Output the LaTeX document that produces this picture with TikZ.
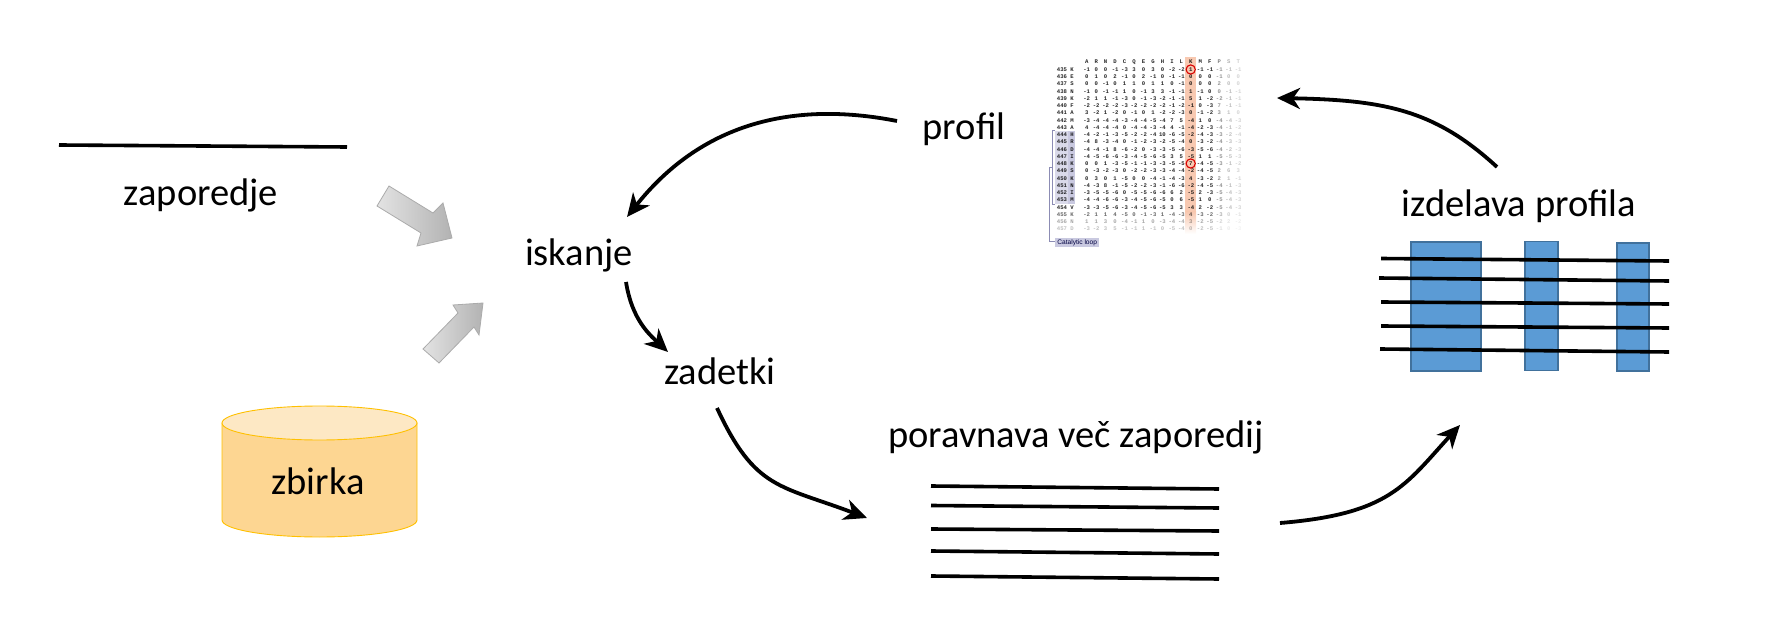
\documentclass[tikz,border=0pt]{standalone}
\usepackage{fontspec}
\setmainfont{Carlito}
\newfontfamily\tblfont{Liberation Mono}[BoldFont=Liberation Mono Bold]
\newfontfamily\capfont{Liberation Sans}
\usetikzlibrary{arrows.meta}
\definecolor{bluefill}{HTML}{5B9BD5}
\definecolor{blueedge}{HTML}{41719C}
\definecolor{cylbody}{HTML}{FDD692}
\definecolor{cyltop}{HTML}{FDE8C4}
\definecolor{cyledge}{HTML}{FFC000}
\definecolor{hilite}{HTML}{F8C9B1}
\definecolor{purpA}{HTML}{DADAEA}
\definecolor{purpB}{HTML}{C9C9E0}
\definecolor{purpL}{HTML}{8C8CB4}
\tikzset{
  lbl/.style={font=\fontsize{38.5}{41}\selectfont, text=black, inner sep=0pt},
  seqline/.style={line width=3.6pt, black},
  flow/.style={line width=3.8pt, black, -{Stealth[length=23pt,width=21pt,inset=7pt]}},
  bar/.style={draw=blueedge, line width=1.8pt, fill=bluefill},
  bigarrow/.style={draw=black!33, line width=0.8pt, left color=black!11, right color=black!30},
  cell/.style={font=\tblfont\bfseries\fontsize{5.6}{6}\selectfont, inner sep=0pt, anchor=base},
}
\begin{document}
\begin{tikzpicture}[x=1pt,y=-1pt]
\useasboundingbox (0,0) rectangle (1778,620);

% --- labels
\node[lbl] (zap) at (201,195) {zaporedje};
\node[lbl] (isk) at (579,255) {iskanje};
\node[lbl] (zad) at (720,371) {zadetki};
\node[lbl] (prf) at (964,129) {profil};
\node[lbl] (por) at (1076,437) {poravnava več zaporedij};
\node[lbl] (izd) at (1519,206) {izdelava profila};

% --- single sequence
\coordinate (s1) at (59,145); \coordinate (s2) at (347,147);
\draw[seqline] (s1) -- (s2);

% --- cylinder
\path[draw=cyledge, line width=0.9pt, fill=cylbody]
  (222,423) -- (222,520) arc[start angle=180,end angle=0,x radius=97.5,y radius=17] -- (417,423) -- cycle;
\path[draw=cyledge, line width=0.9pt, fill=cyltop]
  (319.5,423) ellipse[x radius=97.5,y radius=17];
\node[lbl] (zb) at (318,481) {zbirka};

% --- grey block arrows
\path[bigarrow] (389,186) -- (433,213) -- (443,203) -- (452,238) -- (417,246) -- (421,233) -- (377,206) -- cycle;
\path[bigarrow] (423,349) -- (458,313) -- (453,305) -- (483,303) -- (479,335) -- (474,327) -- (439,363) -- cycle;

% --- alignment lines
\foreach \n/\a/\b in {1/486/489,2/505.5/508,3/529/531,4/551/554,5/576/579}{
  \coordinate (al\n) at (931,\a); \coordinate (ar\n) at (1219,\b);
  \draw[seqline] (al\n) -- (ar\n);
}

% --- profile bars
\node[bar, minimum width=70pt, minimum height=129pt, inner sep=0pt] (b1) at (1446,306.5) {};
\node[bar, minimum width=33pt, minimum height=129pt, inner sep=0pt] (b2) at (1541.5,306) {};
\node[bar, minimum width=32pt, minimum height=128pt, inner sep=0pt] (b3) at (1633,307) {};
\foreach \n/\xa/\a/\b in {1/1381/258.5/261,2/1379/278/281,3/1381/302/304,4/1381/326/328,5/1380/349/352}{
  \coordinate (pl\n) at (\xa,\a); \coordinate (pr\n) at (1669,\b);
  \draw[seqline] (pl\n) -- (pr\n);
}

% --- profile table
\fill[hilite] (1185,57) rectangle (1196,212);
\shade[top color=hilite, bottom color=white] (1185,212) rectangle (1196,234);
\fill[purpA] (1055,131) rectangle (1068,204);
\fill[purpB] (1068,131) rectangle (1075,204);
\draw[purpL, line width=0.8pt] (1055,130) -- (1052.5,130) -- (1052.5,204) -- (1055,204);
\draw[purpL, line width=0.8pt] (1052.5,167) -- (1049,167) -- (1049,241.5) -- (1055,241.5);
\node[fill=purpB, minimum width=44pt, minimum height=9.5pt, inner sep=0pt, anchor=west,
      font=\capfont\fontsize{6.6}{7}\selectfont, text=black!75!blue] (cat) at (1055,242.5) {Catalytic loop};

\foreach \h [count=\c from 0] in {A,R,N,D,C,Q,E,G,H,I,L,K,M,F,P,S,T}{
  \pgfmathsetmacro{\cx}{1086.7+9.47*\c}
  \pgfmathsetmacro{\op}{\c>15?0.2:(\c>14?0.3:(\c>13?0.5:0.85))}
  \node[cell, text opacity=\op] (hd\c) at (\cx,64) {\h};
}
\foreach \lb/\aa/\vals [count=\r from 0] in {
 435/K/{-1,0,0,-1,-3,3,0,3,0,-2,-2,1,-1,-1,-1,-1,-1},
 436/E/{0,1,0,2,-1,0,2,-1,0,-1,-1,0,0,0,-1,0,0},
 437/S/{0,0,-1,0,1,1,0,1,1,0,-1,0,0,0,2,0,0},
 438/N/{-1,0,-1,-1,1,0,-1,3,3,-1,-1,1,-1,0,0,-1,-1},
 439/K/{-2,1,1,-1,-3,0,-1,-3,-2,-1,-1,5,1,-2,-2,-1,-1},
 440/F/{-2,-2,-2,-2,-3,-2,-2,-2,-2,-1,-2,-1,0,-3,7,-1,-1},
 441/A/{3,-2,1,-2,0,-1,0,1,-2,-2,-3,0,-1,-2,3,1,0},
 442/M/{-3,-4,-4,-4,-3,-4,-4,-5,-4,7,5,-4,1,0,-4,-4,-3},
 443/A/{4,-4,-4,-4,0,-4,-4,-3,-4,4,-1,-4,-2,-3,-4,-1,-2},
 444/H/{-4,-2,-1,-3,-5,-2,-2,-4,10,-6,-5,-2,-4,-3,-3,-2,-4},
 445/R/{-4,8,-3,-4,0,-1,-2,-3,-2,-5,-4,0,-3,-2,-4,-3,-3},
 446/D/{-4,-4,-1,8,-6,-2,0,-3,-3,-5,-6,-3,-5,-6,-4,-2,-3},
 447/I/{-4,-5,-6,-6,-3,-4,-5,-6,-5,3,5,-5,1,1,-5,-5,-3},
 448/K/{0,0,1,-3,-5,-1,-1,-3,-3,-5,-5,7,-4,-5,-3,-1,-2},
 449/S/{0,-3,-2,-3,0,-2,-2,-3,-3,-4,-4,-2,-4,-5,2,6,3},
 450/K/{0,3,0,1,-5,0,0,-4,-1,-4,-3,4,-3,-2,2,1,-1},
 451/N/{-4,-3,8,-1,-5,-2,-2,-3,-1,-6,-6,-2,-4,-5,-4,-1,-3},
 452/I/{-3,-5,-5,-6,0,-5,-5,-6,-6,6,2,-5,2,-3,-5,-4,-3},
 453/M/{-4,-4,-6,-6,-3,-4,-5,-6,-5,0,6,-5,1,0,-5,-4,-3},
 454/V/{-3,-3,-5,-6,-3,-4,-5,-6,-5,3,3,-4,2,-2,-5,-4,-3},
 455/K/{-2,1,1,4,-5,0,-1,-3,1,-4,-3,4,-3,-2,-3,0,-1},
 456/N/{1,1,3,0,-4,-1,1,0,-3,-4,-4,3,-2,-5,-2,2,-2},
 457/D/{-3,-2,3,5,-1,-1,1,-1,0,-5,-4,0,-2,-5,-1,0,-3}}{
  \pgfmathsetmacro{\ry}{71.3+7.25*\r}
  \pgfmathsetmacro{\rop}{\r>21?0.25:(\r>20?0.35:(\r>19?0.6:0.85))}
  \node[cell, text opacity=\rop] (rn\r) at (1062,\ry) {\lb};
  \node[cell, text opacity=\rop] (ra\r) at (1072,\ry) {\aa};
  \foreach \v [count=\c from 0] in \vals {
    \pgfmathsetmacro{\cx}{1086.7+9.47*\c}
    \pgfmathsetmacro{\cop}{\c>15?0.2:(\c>14?0.3:(\c>13?0.5:1))}
    \pgfmathsetmacro{\op}{\cop*\rop}
    \node[cell, text opacity=\op] (v\r-\c) at (\cx,\ry) {\v};
  }
}
\draw[red!85!black, line width=1.1pt] (1190.7,69.5) circle[radius=4.6];
\draw[red!85!black, line width=1.1pt] (1190.7,163.5) circle[radius=4.6];

% --- flow arrows
\coordinate (f1a) at (897,121); \coordinate (f1b) at (627,217);
\coordinate (f2a) at (626,282); \coordinate (f2b) at (668,352);
\coordinate (f3a) at (717,408); \coordinate (f3b) at (867,518);
\coordinate (f4a) at (1280,523); \coordinate (f4b) at (1460,425);
\coordinate (f5a) at (1497,167); \coordinate (f5b) at (1277,98);
\draw[flow] (f1a) .. controls (790,100) and (700,125) .. (f1b);
\draw[flow] (f2a) .. controls (632,320) and (650,335) .. (f2b);
\draw[flow] (f3a) .. controls (755,490) and (780,485) .. (f3b);
\draw[flow] (f4a) .. controls (1390,514) and (1405,485) .. (f4b);
\draw[flow] (f5a) .. controls (1435,110) and (1385,100) .. (f5b);
\end{tikzpicture}
\end{document}
